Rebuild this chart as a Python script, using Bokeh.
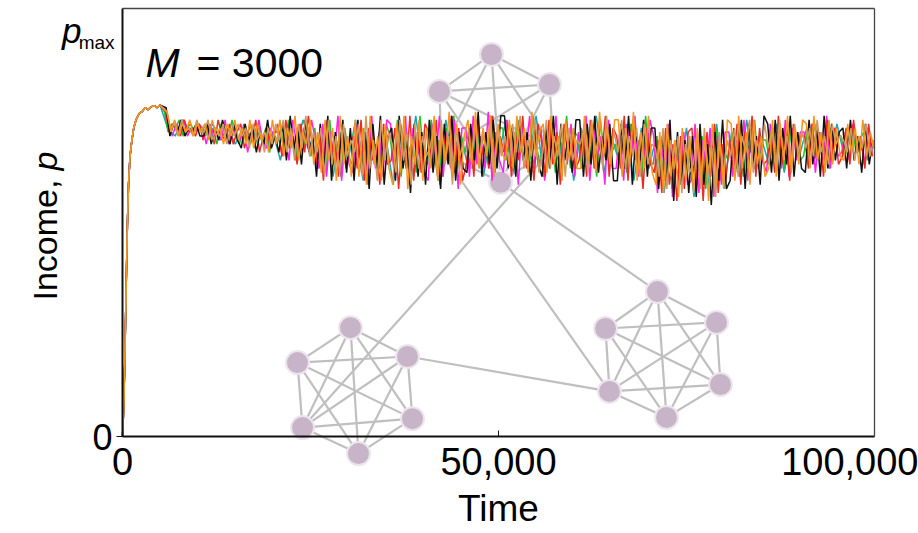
import numpy as np
from itertools import combinations
from bokeh.plotting import figure
from bokeh.models import Range1d, LinearAxis, FixedTicker, Label, NumeralTickFormatter
from bokeh.embed import file_html
from bokeh.resources import INLINE

# ---------------- data ----------------
T_MAX = 100000
Y_TOP = 1.054          # top of the plotting box; p_max sits at 1.0

x_ticks = [0, 50000, 100000]
y_ticks = [0]

# shared initial rise of income (fraction of p_max)
rise_t = [0, 100, 200, 300, 400, 500, 650, 800, 1000, 1250, 1500, 1800,
          2200, 2600, 3000, 3400, 3800, 4200, 4600, 5000]
rise_v = [0.0, 0.04, 0.10, 0.18, 0.28, 0.38, 0.52, 0.62, 0.69, 0.73, 0.76, 0.78,
          0.795, 0.80, 0.81, 0.805, 0.812, 0.815, 0.81, 0.816]

# main time grid for the six dense series: 5500 .. 100000 step 500
main_t = list(range(5500, 100001, 500))

# income in percent of p_max
series_orange = [80,75,78,74,77,75,78,74,77,75, 77,73,78,74,76,72,77,74,78,73,
                 76,72,78,71,77,73,75,70,78,72, 78,69,76,71,79,68,75,72,78,67,
                 75,65,78,68,76,63,79,67,74,64, 78,64,76,62,79,67,74,63,77,66,
                 62,77,65,79,61,74,67,78,63,76, 66,79,63,75,68,80,64,77,62,74,
                 78,67,80,66,76,69,79,65,77,70, 68,78,66,79,70,76,65,80,69,75,
                 77,65,79,67,74,63,78,68,76,66, 66,79,68,77,65,80,69,76,67,78,
                 78,64,76,67,80,63,75,66,79,65, 62,75,60,77,64,73,59,76,63,74,
                 60,76,63,74,58,77,62,73,61,78, 77,63,79,66,75,62,78,67,74,64,
                 66,78,64,77,68,79,65,76,67,78, 77,66,79,68,75,65,78,67,76,69,
                 68,77,70,76,67,78,69,75,71,72]
series_black = [81,74,77,75,78,74,76,75,77,74, 74,77,72,76,73,78,74,72,77,73,
                71,77,73,76,70,75,72,78,71,74, 70,77,68,79,71,76,67,78,70,74,
                64,77,66,79,63,75,68,78,65,76, 63,78,65,75,61,77,66,79,62,74,
                76,63,79,66,73,60,77,64,75,62, 78,65,74,61,77,67,79,63,75,66,
                65,77,68,80,64,75,67,78,66,79, 79,66,76,64,78,68,75,63,77,67,
                64,76,66,79,62,77,68,74,65,78, 78,64,77,67,79,65,74,68,77,63,
                63,77,66,79,62,75,68,78,64,76, 76,61,74,63,78,58,75,62,73,60,
                74,59,77,62,72,57,75,63,78,61, 63,76,65,78,61,77,67,74,62,79,
                77,65,78,63,76,67,79,64,75,66, 65,78,67,76,64,79,66,77,68,75,
                76,66,78,68,74,65,77,67,73,70]
series_tan = [80,76,77,74,78,75,76,74,78,75, 75,78,73,76,74,77,72,76,74,77,
              74,76,71,77,73,75,70,76,72,77, 73,78,70,76,68,77,71,79,69,75,
              70,76,64,78,67,74,65,77,69,73, 70,77,64,79,66,73,63,78,68,75,
              72,65,78,68,75,62,77,66,74,69, 71,76,64,78,67,74,62,77,69,73,
              73,68,78,66,75,70,77,64,76,69, 74,67,77,70,79,66,73,69,78,65,
              70,78,66,74,69,77,64,76,68,73, 72,76,65,78,70,74,66,79,68,75,
              70,78,66,74,69,76,64,77,67,72, 71,64,76,61,73,66,74,60,72,65,
              67,74,61,76,65,71,59,75,64,73, 69,76,64,74,70,78,65,73,68,77,
              71,76,66,78,69,74,67,77,70,75, 71,76,69,78,70,74,67,77,72,74,
              73,70,76,68,74,71,77,69,73,71]
series_red = [80,75,77,76,74,78,75,76,74,77, 73,77,75,72,78,74,73,77,72,75,
              77,71,75,73,78,70,74,76,71,75, 75,69,78,71,74,67,77,70,79,72,
              67,75,63,78,69,74,64,77,66,72, 74,66,78,63,76,68,72,62,77,67,
              68,76,61,74,66,79,63,75,65,77, 75,66,78,62,74,68,79,65,76,63,
              67,76,64,78,69,73,66,79,68,74, 70,77,64,75,68,79,66,73,63,77,
              73,64,78,67,75,62,77,69,74,66, 68,75,64,78,66,73,69,79,64,76,
              74,66,79,63,77,68,73,61,76,67, 65,73,60,76,62,72,58,74,61,75,
              76,62,73,58,75,64,77,60,72,63, 73,66,77,62,75,68,79,64,76,67,
              68,75,65,79,67,76,63,77,69,74, 74,66,77,69,75,64,78,68,76,67,
              69,76,67,78,70,74,66,77,69,72]
series_magenta = [81,76,74,77,75,78,74,76,75,77, 76,72,77,74,75,73,78,72,76,74,
                  73,77,70,75,72,78,73,71,76,74, 77,70,74,68,78,72,69,76,71,78,
                  73,66,77,64,75,68,79,63,74,67, 65,77,68,74,62,79,66,75,64,78,
                  77,64,74,67,79,62,76,68,73,65, 63,77,67,79,64,75,66,78,61,76,
                  76,64,79,67,74,66,80,63,75,68, 65,78,67,74,62,77,69,79,66,73,
                  76,63,75,68,79,65,73,67,77,64, 75,67,79,63,76,69,74,62,78,66,
                  66,75,63,77,68,79,64,74,67,78, 74,60,72,65,77,59,73,63,75,62,
                  63,77,60,73,66,76,59,74,62,75, 75,64,73,67,78,63,76,66,74,68,
                  65,77,68,74,66,78,64,76,68,75, 75,67,77,65,74,68,79,66,76,69,
                  70,75,68,77,71,74,67,76,70,73]
series_green = [80,75,77,76,78,74,76,77,75,76, 75,77,74,76,72,77,75,73,78,74,
                72,76,74,77,71,75,73,76,70,75, 72,76,70,78,73,68,77,71,75,69,
                76,68,73,65,78,67,72,64,76,69, 67,74,70,76,65,78,69,73,66,77,
                74,67,78,64,76,70,73,65,79,68, 67,78,70,73,64,76,69,79,66,74,
                70,75,66,77,71,74,68,79,65,76, 76,68,73,66,78,70,74,65,79,71,
                67,75,70,77,65,74,69,79,66,75, 74,66,76,70,73,64,78,69,75,70,
                72,68,75,65,77,70,73,64,79,68, 67,74,63,70,75,61,72,66,74,64,
                72,64,70,74,61,73,67,76,63,70, 68,75,66,77,64,72,70,78,66,73,
                73,68,76,70,74,66,77,71,74,68, 69,75,72,77,68,73,70,76,71,74,
                74,69,72,76,70,73,75,68,74,71]

# coarser teal series: 6000 .. 100000 step 1000
teal_t = list(range(6000, 100001, 1000))
series_teal = [76,74,78,75,77, 74,77,73,76,72, 76,72,77,71,75, 68,77,70,78,72,
               66,77,64,75,68, 78,63,76,65,74, 62,77,66,79,64, 75,63,78,67,74,
               66,78,64,76,69, 78,65,76,67,79, 64,75,68,77,63, 76,67,79,65,74,
               68,77,63,76,66, 74,60,72,63,76, 59,73,62,77,61, 75,64,78,66,73,
               67,77,65,76,69, 76,68,74,66,77, 69,75,70,73,71]

# network inset (nodes in data coordinates), three 6-node cliques
node_t = [49070, 42150, 56780, 42420, 57310, 50270,      # top clique
          30320, 23270, 37900, 23940, 38560, 31380,      # left clique
          71140, 64230, 78990, 64760, 79520, 72340]      # right clique
node_v = [0.941, 0.850, 0.867, 0.700, 0.712, 0.626,
          0.268, 0.182, 0.197, 0.022, 0.044, -0.042,
          0.357, 0.266, 0.281, 0.111, 0.128, 0.047]
cliques = [[0, 1, 2, 3, 4, 5], [6, 7, 8, 9, 10, 11], [12, 13, 14, 15, 16, 17]]
bridges = [(9, 4), (3, 15), (8, 15), (5, 12)]

# ---------------- figure ----------------
FONT = "Liberation Sans"
W, H = 918, 533
PX_X0, PX_X1 = 122, 874      # screen x of t=0 and t=T_MAX
PX_Y0, PX_Y1 = 436, 30       # screen y of v=0 and v=1
sx = T_MAX / (PX_X1 - PX_X0)
sy = 1.0 / (PX_Y0 - PX_Y1)
x_range = Range1d(-PX_X0 * sx, (W - PX_X0) * sx)
y_range = Range1d(-(H - PX_Y0) * sy, PX_Y0 * sy)

p = figure(width=W, height=H, output_backend="svg", toolbar_location=None,
           x_range=x_range, y_range=y_range,
           x_axis_location=None, y_axis_location=None,
           min_border=0)
p.outline_line_color = None
p.grid.grid_line_color = None
p.background_fill_color = "white"
p.border_fill_color = "white"

# network edges and nodes (underneath the traces)
edges = [e for c in cliques for e in combinations(c, 2)] + bridges
p.segment(x0=[node_t[a] for a, b in edges], y0=[node_v[a] for a, b in edges],
          x1=[node_t[b] for a, b in edges], y1=[node_v[b] for a, b in edges],
          line_color="#bfbfbf", line_width=2.2)
p.scatter(node_t, node_v, size=23, fill_color="#c8b4c8",
          line_color="#ece6ec", line_width=2)

# income traces
layers = [
    (teal_t, series_teal, "#1aa7b0", 0),
    (main_t, series_green, "#22c02a", 60),
    (main_t, series_magenta, "#ff22e8", 140),
    (main_t, series_red, "#ee2a24", 220),
    (main_t, series_black, "#111111", 300),
    (main_t, series_tan, "#cf9a60", 380),
    (main_t, series_orange, "#f5961f", 440),
]
for ts, vals, col, off in layers:
    n = min(len(ts), len(vals))
    xs = list(rise_t)
    ys = list(rise_v)
    for t, v in zip(ts[:n], vals[:n]):
        if t + off <= T_MAX:
            xs.append(t + off)
            ys.append(v / 100.0)
    p.line(xs, ys, line_color=col, line_width=1.5)

# axes (all pinned to data positions so the inset may run past the box)
xaxis = LinearAxis(fixed_location=0, bounds=(0, T_MAX),
                   ticker=FixedTicker(ticks=x_ticks),
                   formatter=NumeralTickFormatter(format="0,0"),
                   axis_label="Time")
xaxis.axis_line_color = "#111111"
xaxis.axis_line_width = 2
xaxis.major_tick_in = 6
xaxis.major_tick_out = 0
xaxis.minor_tick_line_color = None
xaxis.major_tick_line_color = "#111111"
xaxis.major_label_text_font = FONT
xaxis.major_label_text_font_size = "38px"
xaxis.major_label_text_color = "black"
xaxis.major_label_standoff = 11
xaxis.axis_label_text_font = FONT
xaxis.axis_label_text_font_size = "37px"
xaxis.axis_label_text_font_style = "normal"
xaxis.axis_label_text_color = "black"
xaxis.axis_label_standoff = 10
p.add_layout(xaxis, "below")

yaxis = LinearAxis(fixed_location=0, bounds=(0, Y_TOP),
                   ticker=FixedTicker(ticks=y_ticks))
yaxis.axis_line_color = "#111111"
yaxis.axis_line_width = 2
yaxis.major_tick_in = 0
yaxis.major_tick_out = 6
yaxis.minor_tick_line_color = None
yaxis.major_tick_line_color = "#111111"
yaxis.major_label_text_font = FONT
yaxis.major_label_text_font_size = "36px"
yaxis.major_label_text_color = "black"
yaxis.major_label_standoff = 4
p.add_layout(yaxis, "left")

for side, loc, bnds in (("right", T_MAX, (0, Y_TOP)), ("above", Y_TOP, (0, T_MAX))):
    ax = LinearAxis(fixed_location=loc, bounds=bnds, ticker=FixedTicker(ticks=[]))
    ax.axis_line_color = "#444444"
    ax.axis_line_width = 1.3
    ax.major_tick_out = 0
    ax.major_tick_in = 0
    ax.minor_tick_line_color = None
    ax.major_label_standoff = 0
    ax.major_label_text_font_size = "0px"
    p.add_layout(ax, side)

# text labels
def lab(x, y, text, size, style="normal", align="left", angle=0.0):
    p.add_layout(Label(x=x, y=y, text=text, x_units="data", y_units="data",
                       text_font=FONT, text_font_size=size,
                       text_font_style=style, text_align=align,
                       text_baseline="alphabetic", angle=angle,
                       text_color="black"))

lab(-5450, 1.0, "p", "35px", "italic", "right")
lab(-1060, 0.970, "max", "19px", "normal", "right")
lab(3060, 0.919, "M", "41px", "italic")
lab(9840, 0.919, "= 3000", "41px")
lab(-10240, 0.335, "Income,", "34px", "normal", "left", np.pi / 2)
lab(-10240, 0.655, "p", "34px", "italic", "left", np.pi / 2)

open("out.html", "w").write(file_html(p, INLINE))
